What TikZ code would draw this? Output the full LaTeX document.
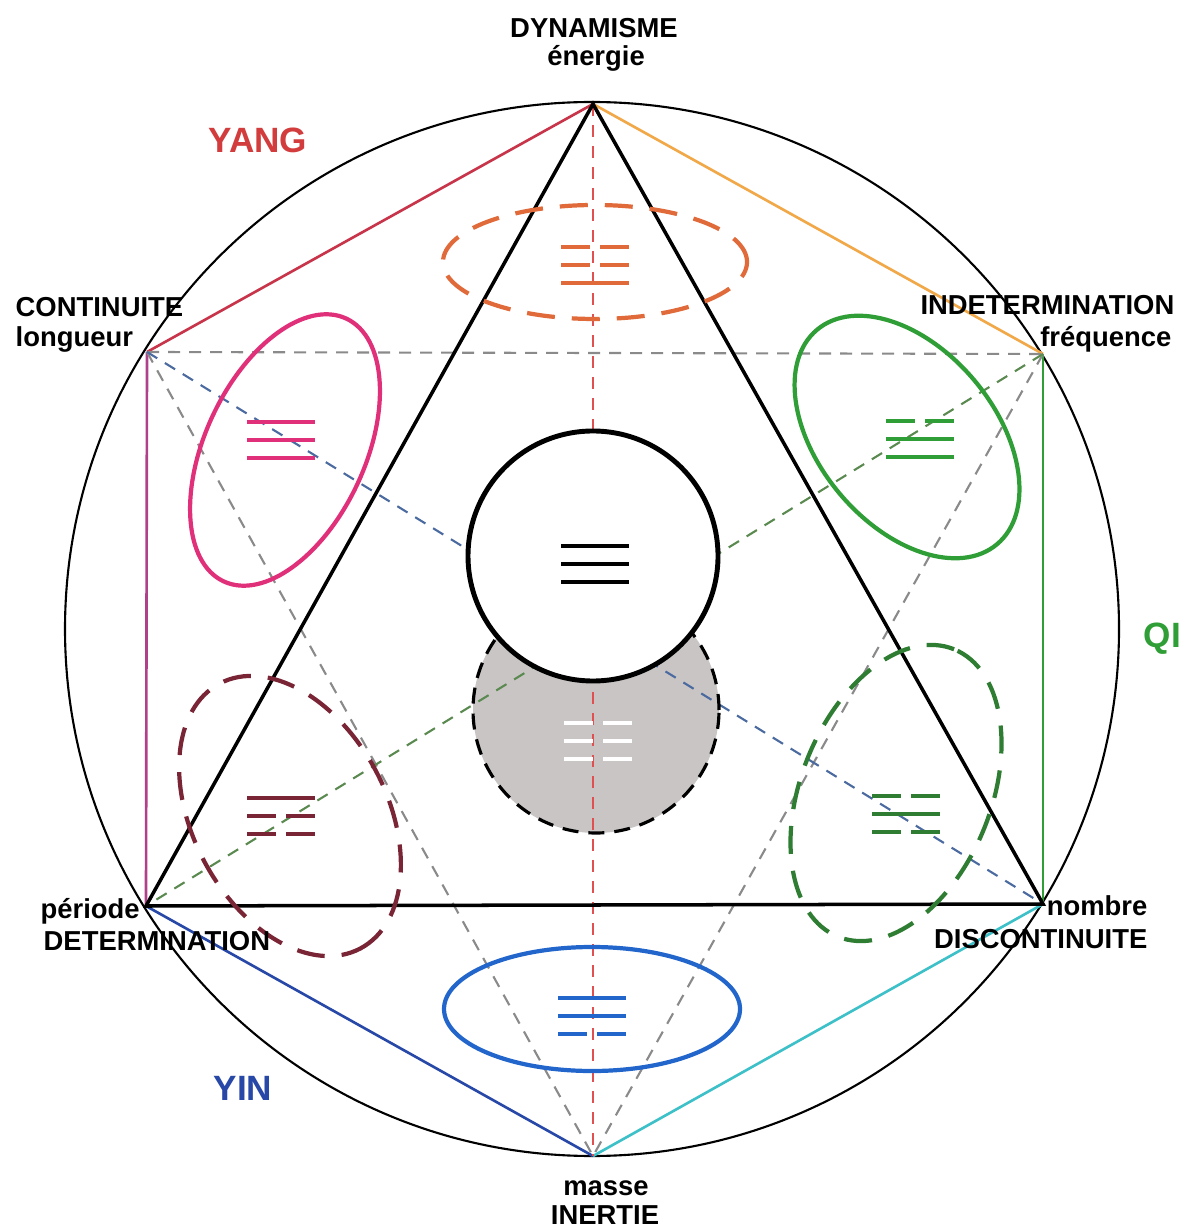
\documentclass[tikz,border=0pt]{standalone}
\usepackage{fontspec}
\setmainfont{Liberation Sans}
\usepackage{xcolor}
\usetikzlibrary{positioning}

\definecolor{yangred}{HTML}{C8354A}
\definecolor{yangtxt}{HTML}{D23C3C}
\definecolor{orangeline}{HTML}{F0A848}
\definecolor{qigreen}{HTML}{2F9E36}
\definecolor{cyanline}{HTML}{3EC0C8}
\definecolor{yinblue}{HTML}{2848A8}
\definecolor{violetline}{HTML}{B0408A}
\definecolor{rose}{HTML}{E0307A}
\definecolor{bordeaux}{HTML}{7A2535}
\definecolor{vertfonce}{HTML}{2E7D32}
\definecolor{bleuclair}{HTML}{2266CC}
\definecolor{orangerouge}{HTML}{E06A3A}
\definecolor{grisfond}{HTML}{C9C5C5}
\definecolor{axered}{HTML}{E05050}
\definecolor{axegris}{HTML}{8A8A8A}
\definecolor{axebleu}{HTML}{4A6AA0}
\definecolor{axevert}{HTML}{5A8A50}

\tikzset{
  lbl/.style={font=\fontsize{7.8}{9}\selectfont\bfseries, inner sep=0pt},
  big/.style={font=\fontsize{10}{12}\selectfont\bfseries, inner sep=0pt},
  hexedge/.style={line width=0.75pt},
  axe/.style={line width=0.6pt, dash pattern=on 1.2mm off 0.9mm},
  halo/.style={line width=1.2pt},
  halodash/.style={line width=1.2pt, dash pattern=on 2.8mm off 1.7mm},
  yao/.style={line width=1.4pt},
}

% trigramme : centre, couleur, traits de haut en bas (1 plein, 0 brise)
\newcommand{\trigramme}[3]{%
  \foreach \t [count=\i] in {#3}{
    \ifnum\t=1
      \draw[yao, #2, shift={(#1)}] (-34,{(\i-2)*18}) -- (34,{(\i-2)*18});
    \else
      \draw[yao, #2, shift={(#1)}] (-34,{(\i-2)*18}) -- (-5,{(\i-2)*18})
                                   (5,{(\i-2)*18}) -- (34,{(\i-2)*18});
    \fi
  }
}

\begin{document}
\begin{tikzpicture}[x=0.1mm, y=-0.1mm]
    \useasboundingbox (0,0) rectangle (1179,1227);

    \coordinate (c)     at (592,629);
    \coordinate (dyn)   at (593,104);
    \coordinate (cont)  at (147,352);
    \coordinate (indet) at (1043,354);
    \coordinate (per)   at (146,906);
    \coordinate (nomb)  at (1043,904);
    \coordinate (mas)   at (593,1156);

    \draw[line width=0.6pt] (c) circle[radius=52.7mm];

    % hexagone
    \draw[hexedge, yangred]    (dyn) -- (cont);
    \draw[hexedge, orangeline] (dyn) -- (indet);
    \draw[hexedge, qigreen]    (indet) -- (nomb);
    \draw[hexedge, cyanline]   (nomb) -- (mas);
    \draw[hexedge, yinblue]    (mas) -- (per);
    \draw[hexedge, violetline] (per) -- (cont);

    % cercle gris
    \fill[grisfond] (596,710) circle[radius=12.3mm];

    % axes
    \draw[axe, axegris] (cont) -- (indet);
    \draw[axe, axegris] (cont) -- (mas);
    \draw[axe, axegris] (indet) -- (mas);
    \draw[axe, axebleu] (cont) -- (nomb);
    \draw[axe, axevert] (indet) -- (per);
    \draw[axe, axered]  (dyn) -- (mas);

    % triangle
    \draw[line width=1pt, line join=miter] (dyn) -- (per) -- (nomb) -- cycle;

    % ellipses
    \draw[halodash, orangerouge] (595,262) ellipse[x radius=15.2mm, y radius=5.7mm];
    \draw[halo, rose]        (285,450) ellipse[x radius=14.5mm, y radius=8mm, rotate=65];
    \draw[halo, qigreen]     (907,437) ellipse[x radius=14mm, y radius=8.8mm, rotate=-50];
    \draw[halodash, bordeaux]  (290,816) ellipse[x radius=15mm, y radius=9.7mm, rotate=-62];
    \draw[halodash, vertfonce] (896,793) ellipse[x radius=15.5mm, y radius=9.5mm, rotate=68];
    \draw[halo, bleuclair]   (592,1009) ellipse[x radius=14.8mm, y radius=6.2mm];

    % cercles centraux
    \draw[line width=0.9pt, dash pattern=on 1.6mm off 1mm] (596,710) circle[radius=12.3mm];
    \draw[line width=1.4pt, fill=white] (593,556) circle[radius=12.5mm];

    % trigrammes
    \trigramme{595,265}{orangerouge}{0,0,1}
    \trigramme{595,564}{black}{1,1,1}
    \trigramme{598,741}{white}{0,0,0}
    \trigramme{281,440}{rose}{1,1,1}
    \trigramme{920,439}{qigreen}{0,1,1}
    \trigramme{281,816}{bordeaux}{1,0,0}
    \trigramme{906,814}{vertfonce}{0,1,0}
    \trigramme{592,1016}{bleuclair}{1,1,0}

    % textes
    \node[lbl, anchor=base] (l-dyn)  at (594,38)  {DYNAMISME};
    \node[lbl, anchor=base] (l-ener) at (596,66)  {énergie};
    \node[lbl, anchor=base west] (l-cont) at (15,317) {CONTINUITE};
    \node[lbl, anchor=base west] (l-long) at (15,347) {longueur};
    \node[lbl, anchor=base east] (l-indet) at (1175,315) {INDETERMINATION};
    \node[lbl, anchor=base east] (l-freq)  at (1172,347) {fréquence};
    \node[lbl, anchor=base west] (l-per)  at (40,918) {période};
    \node[lbl, anchor=base west] (l-det)  at (43,950) {DETERMINATION};
    \node[lbl, anchor=base east] (l-nomb) at (1148,915) {nombre};
    \node[lbl, anchor=base east] (l-disc) at (1148,948) {DISCONTINUITE};
    \node[lbl, anchor=base] (l-mas) at (606,1195) {masse};
    \node[lbl, anchor=base] (l-in)  at (605,1224) {INERTIE};

    \node[big, yangtxt, anchor=base]    (yang) at (258,153) {YANG};
    \node[big, yinblue, anchor=base]    (yin)  at (243,1100) {YIN};
    \node[big, qigreen, anchor=base west] (qi) at (1143,648) {QI};
\end{tikzpicture}
\end{document}
